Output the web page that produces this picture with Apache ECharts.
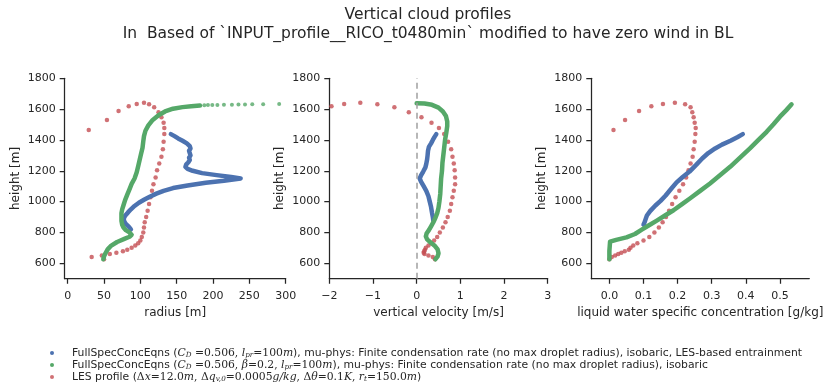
<!DOCTYPE html>
<html>
<head>
<meta charset="utf-8">
<script src="https://cdn.jsdelivr.net/npm/echarts@6/dist/echarts.min.js"></script>
<style>
  html, body { margin: 0; padding: 0; background: #fff; }
  #profiles { width: 827px; height: 385px; }
</style>
</head>
<body>
<div id="profiles"></div>
<script>
// 刻度
var heightTicks = [600, 800, 1000, 1200, 1400, 1600, 1800];
var radiusTicks = [0, 50, 100, 150, 200, 250, 300];
var velocityTicks = [-2, -1, 0, 1, 2, 3];
var lwcTicks = [0, 0.1, 0.2, 0.3, 0.4, 0.5];

var legendNames = [
  'FullSpecConcEqns (C_D=0.506, l_pr=100m), mu-phys: Finite condensation rate (no max droplet radius), isobaric, LES-based entrainment',
  'FullSpecConcEqns (C_D=0.506, beta=0.2, l_pr=100m), mu-phys: Finite condensation rate (no max droplet radius), isobaric',
  'LES profile (dx=12.0m, dq_v0=0.0005g/kg, dtheta=0.1K, r_t=150.0m)'
];

// LES profile
var lesHeight = [626, 641, 650, 660, 669, 678, 688, 700, 715, 730, 748, 770, 800, 832, 866, 900, 940, 985, 1029, 1070,
  1112, 1157, 1204, 1248, 1291, 1339, 1388, 1438, 1477, 1512, 1547, 1579, 1612, 1631, 1642, 1633, 1618, 1588, 1529, 1464];
var lesRadius = [50, 33, 47, 58, 67, 76, 82, 88, 93, 97, 100, 102, 104, 105, 106, 108, 110, 112, 114, 116,
  118, 121, 123, 126, 129, 131, 132, 133, 133, 132, 129, 125, 119, 112, 105, 95, 84, 70, 54, 29];
var lesVelocity = [0.42, 0.37, 0.27, 0.18, 0.16, 0.17, 0.19, 0.21, 0.27, 0.34, 0.40, 0.47, 0.53, 0.60, 0.66, 0.71, 0.76, 0.79, 0.82, 0.85,
  0.88, 0.88, 0.87, 0.85, 0.82, 0.79, 0.72, 0.63, 0.51, 0.34, 0.11, -0.18, -0.51, -0.90, -1.29, -1.66, -1.95, -2.4, -3.0, -3.8];
var lesLwc = [0.0, 0.007, 0.017, 0.026, 0.035, 0.045, 0.057, 0.062, 0.07, 0.082, 0.1, 0.117, 0.132, 0.145, 0.156, 0.166, 0.175, 0.184, 0.194, 0.205,
  0.216, 0.225, 0.232, 0.238, 0.244, 0.247, 0.25, 0.252, 0.253, 0.25, 0.247, 0.243, 0.238, 0.222, 0.192, 0.157, 0.123, 0.087, 0.046, 0.012];

// FullSpecConcEqns, LES-based entrainment  [x, height]
var blueRadius = [[142, 1438], [147, 1425], [152, 1410], [158, 1395], [164, 1378], [168, 1360], [169, 1345], [167, 1330], [168, 1315],
  [169, 1300], [167, 1285], [168, 1270], [166, 1255], [163, 1240], [162, 1225], [165, 1212], [172, 1200], [185, 1185], [205, 1172],
  [225, 1160], [238, 1150], [236, 1143], [215, 1135], [190, 1122], [165, 1105], [145, 1088], [132, 1070], [122, 1052], [113, 1032],
  [105, 1012], [98, 993], [92, 972], [87, 950], [83, 930], [79, 908], [77, 888], [78, 870], [80, 855], [84, 838], [87, 820]];
var blueVelocity = [[0.45, 1438], [0.41, 1420], [0.37, 1400], [0.33, 1378], [0.28, 1355], [0.26, 1330], [0.25, 1300], [0.24, 1275],
  [0.22, 1245], [0.20, 1222], [0.15, 1195], [0.10, 1170], [0.07, 1150], [0.10, 1130], [0.16, 1100], [0.22, 1070], [0.27, 1035],
  [0.30, 1000], [0.33, 965], [0.35, 930], [0.37, 900], [0.38, 880]];
var blueLwc = [[0.1, 850], [0.103, 865], [0.106, 885], [0.11, 910], [0.12, 940], [0.135, 975], [0.15, 1005], [0.165, 1040], [0.18, 1080],
  [0.197, 1125], [0.215, 1160], [0.235, 1195], [0.255, 1240], [0.272, 1280], [0.29, 1315], [0.31, 1345], [0.33, 1370], [0.355, 1395],
  [0.375, 1418], [0.391, 1438]];

// FullSpecConcEqns, beta=0.2
var greenRadius = [[49, 626], [50, 645], [52, 665], [55, 690], [60, 715], [68, 738], [78, 758], [85, 772], [88, 785], [85, 800],
  [80, 815], [77, 830], [75, 850], [74, 875], [74, 900], [74, 925], [75, 950], [77, 980], [79, 1010], [82, 1045], [85, 1080],
  [88, 1115], [92, 1150], [95, 1190], [97, 1230], [99, 1270], [101, 1310], [103, 1350], [104, 1390], [105, 1425], [107, 1460],
  [111, 1495], [117, 1530], [125, 1560], [134, 1585], [145, 1603], [158, 1613], [170, 1619], [182, 1623]];
var greenRadiusTail = [[188, 1625], [193, 1626], [199, 1626], [206, 1627], [215, 1628], [226, 1629], [235, 1630], [244, 1630],
  [254, 1631], [269, 1632], [291, 1633]];
var greenVelocity = [[0.43, 626], [0.48, 645], [0.50, 665], [0.48, 690], [0.42, 712], [0.32, 735], [0.24, 755], [0.21, 775],
  [0.23, 795], [0.28, 815], [0.33, 840], [0.38, 865], [0.43, 895], [0.47, 925], [0.50, 960], [0.52, 1000], [0.54, 1050],
  [0.55, 1100], [0.56, 1150], [0.58, 1200], [0.59, 1250], [0.61, 1300], [0.63, 1350], [0.65, 1400], [0.68, 1450], [0.70, 1490],
  [0.70, 1520], [0.67, 1555], [0.60, 1585], [0.50, 1610], [0.35, 1628], [0.18, 1636], [0.0, 1638]];
var greenLwc = [[0, 626], [0, 650], [0, 680], [0.001, 710], [0.002, 740], [0.02, 752], [0.05, 768], [0.075, 790], [0.095, 818],
  [0.115, 845], [0.139, 877], [0.163, 910], [0.188, 944], [0.212, 982], [0.236, 1020], [0.265, 1068], [0.295, 1118], [0.325, 1172],
  [0.354, 1226], [0.383, 1286], [0.412, 1345], [0.437, 1400], [0.461, 1453], [0.481, 1502], [0.5, 1551], [0.518, 1592], [0.534, 1631]];

var FONT = 'DejaVu Sans';
var INK = '#262626';
var BLUE = '#4c72b0', GREEN = '#55a868', RED = '#c44e52';

var legendRich = [
  'FullSpecConcEqns ({mi|C}{sub|D}{mr| =0.506, }{mi|l}{sub|pr}{mr|=100}{mi|m}), mu-phys: Finite condensation rate (no max droplet radius), isobaric, LES-based entrainment',
  'FullSpecConcEqns ({mi|C}{sub|D}{mr| =0.506, }{mi|β}{mr|=0.2, }{mi|l}{sub|pr}{mr|=100}{mi|m}), mu-phys: Finite condensation rate (no max droplet radius), isobaric',
  'LES profile ({mr|Δ}{mi|x}{mr|=12.0}{mi|m}{mr|, Δ}{mi|q}{sub|v,0}{mr|=0.0005}{mi|g/kg}{mr|, Δ}{mi|θ}{mr|=0.1}{mi|K}{mr|, }{mi|r}{sub|t}{mr|=150.0}{mi|m})'
];

function les(values) {
  return lesHeight.map(function (z, i) { return [values[i], z]; });
}

function xAxisOf(idx, min, max, ticks, name, fmt) {
  return {
    type: 'value', gridIndex: idx, min: min, max: max,
    name: name, nameLocation: 'middle', nameGap: 28,
    nameTextStyle: { color: INK, fontSize: 12, fontFamily: FONT },
    axisLine: { show: true, onZero: false, lineStyle: { color: INK, width: 1.25 } },
    axisTick: { show: true, length: 5, customValues: ticks, lineStyle: { color: INK, width: 1.25 } },
    axisLabel: { color: INK, fontSize: 11, fontFamily: FONT, margin: 12, customValues: ticks, formatter: fmt },
    splitLine: { show: false }
  };
}

function yAxisOf(idx) {
  return {
    type: 'value', gridIndex: idx, min: 500, max: 1800,
    name: 'height [m]', nameLocation: 'middle', nameGap: 43,
    nameTextStyle: { color: INK, fontSize: 12, fontFamily: FONT },
    axisLine: { show: true, onZero: false, lineStyle: { color: INK, width: 1.25 } },
    axisTick: { show: true, length: 5, customValues: heightTicks, lineStyle: { color: INK, width: 1.25 } },
    axisLabel: {
      color: INK, fontSize: 11, fontFamily: FONT, margin: 9, customValues: heightTicks,
      formatter: function (v) { return String(v); }
    },
    splitLine: { show: false }
  };
}

function lineOf(name, idx, data, color, extra) {
  var s = {
    name: name, type: 'line', xAxisIndex: idx, yAxisIndex: idx, data: data,
    showSymbol: false, symbol: 'circle', color: color,
    lineStyle: { width: 4.5, color: color, cap: 'round', join: 'round' }
  };
  return Object.assign(s, extra || {});
}

function dotsOf(name, idx, data, color, size) {
  return {
    name: name, type: 'scatter', xAxisIndex: idx, yAxisIndex: idx, data: data,
    symbolSize: size, color: color, itemStyle: { color: color }
  };
}

var minus = function (v) { return String(v).replace('-', '\u2212'); };

var chart = echarts.init(document.getElementById('profiles'));
var option = {
  animation: false,
  backgroundColor: '#fff',
  title: {
    text: 'Vertical cloud profiles\nIn  Based of `INPUT_profile__RICO_t0480min` modified to have zero wind in BL',
    left: 423, top: 0, textAlign: 'center',
    textStyle: { fontSize: 15.5, fontWeight: 'normal', color: INK, fontFamily: FONT, lineHeight: 19 }
  },
  legend: {
    orient: 'vertical', left: 50, top: 347, height: 60, itemGap: 0, padding: 0,
    itemWidth: 30, itemHeight: 4, icon: 'circle',
    data: legendNames,
    formatter: function (name) { return legendRich[legendNames.indexOf(name)]; },
    textStyle: {
      fontFamily: FONT, fontSize: 10.8, color: INK, lineHeight: 12,
      rich: {
        mi: { fontFamily: 'DejaVu Serif', fontStyle: 'italic', fontSize: 10.8, color: INK, lineHeight: 12 },
        mr: { fontFamily: 'DejaVu Serif', fontSize: 10.8, color: INK, lineHeight: 12 },
        sub: { fontFamily: 'DejaVu Serif', fontStyle: 'italic', fontSize: 7.2, color: INK, lineHeight: 7, verticalAlign: 'bottom' }
      }
    }
  },
  grid: [
    { left: 64.7, top: 78.3, width: 221, height: 200.4 },
    { left: 329.3, top: 78.3, width: 218.4, height: 200.4 },
    { left: 591.3, top: 78.3, width: 218, height: 200.4 }
  ],
  xAxis: [
    xAxisOf(0, -4.1, 300, radiusTicks, 'radius [m]'),
    xAxisOf(1, -2, 3, velocityTicks, 'vertical velocity [m/s]', minus),
    xAxisOf(2, -0.053, 0.586, lwcTicks, 'liquid water specific concentration [g/kg]', function (v) { return v.toFixed(1); })
  ],
  yAxis: [yAxisOf(0), yAxisOf(1), yAxisOf(2)],
  series: [
    lineOf(legendNames[0], 0, blueRadius, BLUE),
    lineOf(legendNames[0], 1, blueVelocity, BLUE),
    lineOf(legendNames[0], 2, blueLwc, BLUE),
    lineOf(legendNames[1], 0, greenRadius, GREEN),
    dotsOf(legendNames[1], 0, greenRadiusTail, GREEN, 4),
    lineOf(legendNames[1], 1, greenVelocity, GREEN, {
      markLine: {
        silent: true, symbol: ['none', 'none'], label: { show: false },
        lineStyle: { color: '#a0a0a0', type: [6, 4], width: 1.5 },
        data: [{ xAxis: 0 }]
      }
    }),
    lineOf(legendNames[1], 2, greenLwc, GREEN),
    dotsOf(legendNames[2], 0, les(lesRadius), RED, 4.5),
    dotsOf(legendNames[2], 1, les(lesVelocity), RED, 4.5),
    dotsOf(legendNames[2], 2, les(lesLwc), RED, 4.5)
  ]
};
chart.setOption(option);
</script>
</body>
</html>
